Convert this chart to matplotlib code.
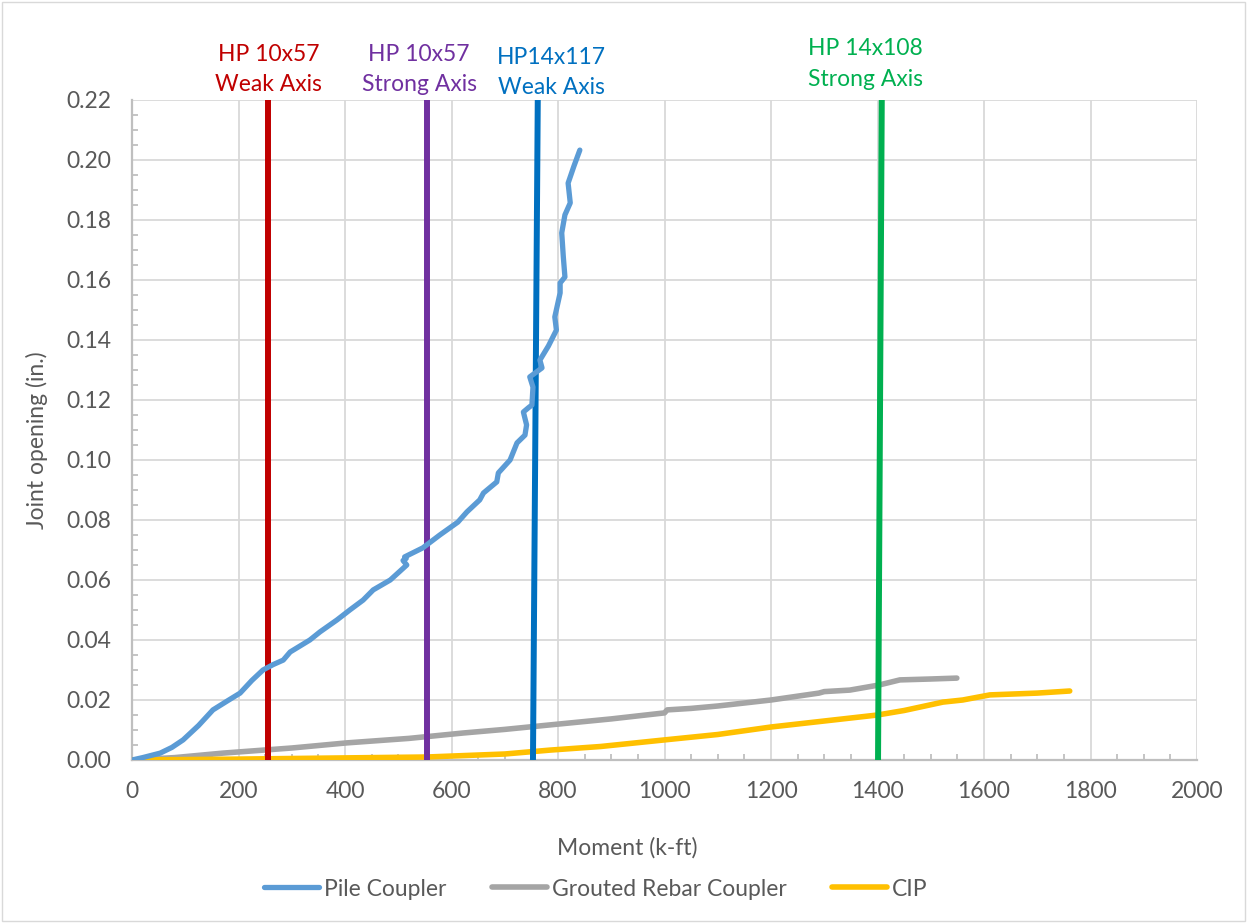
import matplotlib
matplotlib.use("Agg")
import matplotlib.pyplot as plt
from matplotlib.ticker import MultipleLocator, FormatStrFormatter
from matplotlib.patches import Rectangle

plt.rcParams['font.family'] = ['Lato', 'DejaVu Sans']

# Pile coupler: moment (k-ft) vs joint opening (in.)
pile_m = [0, 20, 53, 75, 96, 125, 152, 180, 203, 225, 246, 265, 284, 297, 334, 353, 385, 409,
          434, 453, 485, 516, 509, 515, 512, 546, 578, 612, 629, 653, 660, 685, 688, 710, 723,
          738, 741, 735, 745, 751, 753, 747, 770, 766, 782, 797, 794, 804, 804, 813, 810, 807,
          813, 823, 819, 830, 841]
pile_j = [0, 0.0008, 0.0023, 0.0042, 0.0067, 0.0115, 0.0167, 0.0198, 0.0223, 0.0265, 0.030,
          0.0318, 0.0333, 0.036, 0.040, 0.0427, 0.0467, 0.050, 0.0533, 0.0567, 0.060, 0.065,
          0.0665, 0.0672, 0.0677, 0.0707, 0.075, 0.0793, 0.0827, 0.0867, 0.089, 0.0927, 0.0957,
          0.100, 0.1057, 0.1083, 0.1117, 0.116, 0.1175, 0.1183, 0.1243, 0.1277, 0.1307, 0.1333,
          0.138, 0.1433, 0.1477, 0.1557, 0.159, 0.161, 0.1677, 0.1757, 0.1817, 0.1857, 0.1923,
          0.198, 0.2033]

# Grouted rebar coupler
grout_m = [0, 80, 171, 300, 403, 520, 622, 700, 785, 900, 1000, 1005, 1050, 1100, 1200, 1290,
           1300, 1348, 1403, 1442, 1500, 1549]
grout_j = [0, 0.0008, 0.0023, 0.0040, 0.0057, 0.0072, 0.009, 0.0102, 0.0117, 0.0137, 0.0157,
           0.0167, 0.0172, 0.0180, 0.0200, 0.0223, 0.0228, 0.0233, 0.025, 0.0267, 0.0270, 0.0273]

# Cast-in-place
cip_m = [0, 200, 400, 554, 700, 785, 880, 1000, 1100, 1200, 1300, 1400, 1450, 1523, 1560, 1611,
         1700, 1761]
cip_j = [0, 0.0003, 0.0007, 0.001, 0.002, 0.0033, 0.0045, 0.0067, 0.0085, 0.011, 0.013, 0.015,
         0.0165, 0.0193, 0.020, 0.0217, 0.0223, 0.023]

# Pile capacity markers: (moment at bottom, moment at top), label lines, colour
cap_names = [("HP 10x57", "Weak Axis"), ("HP 10x57", "Strong Axis"),
             ("HP14x117", "Weak Axis"), ("HP 14x108", "Strong Axis")]
cap_bottom = [255, 554, 753, 1401]
cap_top = [255, 554, 762, 1408]
cap_colors = ["#C00000", "#7030A0", "#0070C0", "#00B050"]
cap_label_x = [257, 539, 787, 1378]
cap_label_y1 = [0.235, 0.235, 0.2343, 0.2373]
cap_label_y2 = [0.2253, 0.2253, 0.2243, 0.2267]

FS = 16.5
TXT = "#595959"

fig = plt.figure(figsize=(12.47, 9.23), dpi=100)
ax = fig.add_axes([132 / 1247, 163 / 923, 1065 / 1247, 660 / 923])

fig.patches.append(Rectangle((0.0015, 0.002), 0.997, 0.996, transform=fig.transFigure,
                             fill=False, edgecolor="#D9D9D9", linewidth=1.0))

for xb, xt, c in zip(cap_bottom, cap_top, cap_colors):
    ax.plot([xb, xt], [0, 0.22], color=c, lw=4.3, solid_capstyle="butt", zorder=4)

ax.plot(pile_m, pile_j, color="#5B9BD5", lw=3.8, label="Pile Coupler", zorder=5,
        solid_capstyle="round", solid_joinstyle="round")
ax.plot(grout_m, grout_j, color="#A5A5A5", lw=4.0, label="Grouted Rebar Coupler", zorder=3,
        solid_capstyle="round", solid_joinstyle="round")
ax.plot(cip_m, cip_j, color="#FFC000", lw=4.0, label="CIP", zorder=3,
        solid_capstyle="round", solid_joinstyle="round")

for (l1, l2), c, x, y1, y2 in zip(cap_names, cap_colors, cap_label_x, cap_label_y1, cap_label_y2):
    ax.text(x, y1, l1, color=c, fontsize=FS, ha="center", va="center", clip_on=False)
    ax.text(x, y2, l2, color=c, fontsize=FS, ha="center", va="center", clip_on=False)

ax.set_xlim(0, 2000)
ax.set_ylim(0, 0.22)
ax.xaxis.set_major_locator(MultipleLocator(200))
ax.xaxis.set_minor_locator(MultipleLocator(50))
ax.yaxis.set_major_locator(MultipleLocator(0.02))
ax.yaxis.set_minor_locator(MultipleLocator(0.005))
ax.yaxis.set_major_formatter(FormatStrFormatter("%.2f"))

ax.grid(True, which="major", color="#D9D9D9", lw=1.3)
ax.set_axisbelow(True)
for s in ["top", "right"]:
    ax.spines[s].set_visible(False)
for s in ["left", "bottom"]:
    ax.spines[s].set_color("#BFBFBF")
    ax.spines[s].set_linewidth(1.6)
ax.tick_params(which="major", length=0, labelsize=FS, labelcolor=TXT)
ax.tick_params(axis="x", which="major", pad=15)
ax.tick_params(axis="y", which="major", pad=15)
ax.tick_params(which="minor", direction="in", length=4, color="#BFBFBF", width=1.3)

fig.text(627 / 1247, 1 - 848 / 923, "Moment (k-ft)", fontsize=FS, color=TXT,
         ha="center", va="center")
fig.text(37 / 1247, 1 - 440 / 923, "Joint opening (in.)", fontsize=FS, color=TXT,
         ha="center", va="center", rotation=90)

leg = fig.legend(loc="center", bbox_to_anchor=(596 / 1247, 1 - 889 / 923), ncol=3,
                 frameon=False, fontsize=FS, handlelength=2.4, columnspacing=2.0,
                 handletextpad=0.2)
for t in leg.get_texts():
    t.set_color(TXT)

fig.savefig("out.png", dpi=100)
